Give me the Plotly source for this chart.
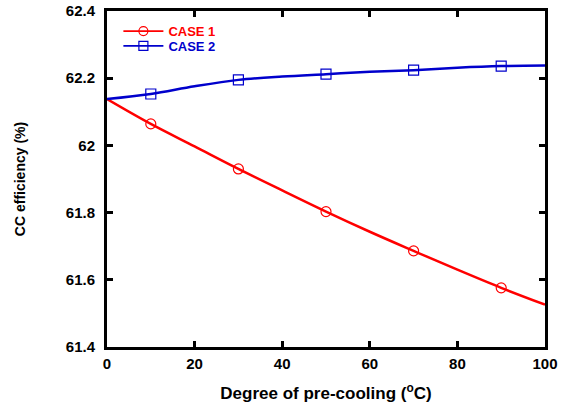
import plotly.graph_objects as go

x_line = [0, 10, 20, 30, 40, 50, 60, 70, 80, 90, 100]
case1_line = [62.138, 62.064, 61.997, 61.930, 61.866, 61.803, 61.743, 61.686, 61.630, 61.576, 61.526]
case2_line = [62.138, 62.153, 62.176, 62.195, 62.205, 62.212, 62.219, 62.224, 62.231, 62.236, 62.238]

x_mark = [10, 30, 50, 70, 90]
case1_mark = [62.064, 61.930, 61.803, 61.686, 61.576]
case2_mark = [62.153, 62.195, 62.212, 62.224, 62.236]

x_ticks = [0, 20, 40, 60, 80, 100]
y_ticks = [61.4, 61.6, 61.8, 62.0, 62.2, 62.4]
y_tick_text = ["61.4", "61.6", "61.8", "62", "62.2", "62.4"]

RED = "#ff0000"
BLUE = "#0000cc"
FONT = "Liberation Sans"

fig = go.Figure()
for name, yl, ym, col, sym, leg in [
    ("CASE 1", case1_line, case1_mark, RED, "circle-open", "legend"),
    ("CASE 2", case2_line, case2_mark, BLUE, "square-open", "legend2"),
]:
    fig.add_trace(go.Scatter(x=x_line, y=yl, mode="lines", line=dict(color=col, width=2.5, shape="spline"),
                             showlegend=False, hoverinfo="skip"))
    fig.add_trace(go.Scatter(x=x_mark, y=ym, mode="markers",
                             marker=dict(symbol=sym, size=10, color=col, line=dict(width=1.2, color=col)),
                             showlegend=False))
    fig.add_trace(go.Scatter(x=[None], y=[None], mode="lines+markers", legend=leg,
                             name=f'<span style="color:{col}">{name}</span>',
                             line=dict(color=col, width=1.8),
                             marker=dict(symbol=sym, size=9, color=col, line=dict(width=1.2, color=col))))

axis_common = dict(showline=True, linewidth=3, linecolor="black", mirror="ticks", ticks="inside",
                   ticklen=6, tickwidth=3, tickcolor="black", showgrid=False, zeroline=False,
                   automargin=False, ticklabeloverflow="allow",
                   tickfont=dict(family=FONT, size=15, color="black", weight="bold"))

legend_common = dict(x=0.026, xanchor="left", yanchor="middle", bgcolor="rgba(0,0,0,0)",
                     font=dict(family=FONT, size=13, weight="bold"), itemwidth=40)

fig.update_layout(
    width=565, height=409,
    margin=dict(l=107, r=20, t=11, b=62),
    paper_bgcolor="white", plot_bgcolor="white",
    font=dict(family=FONT, color="black"),
    xaxis=dict(range=[0, 100], tickvals=x_ticks, ticklabelstandoff=1,
               title=dict(text="Degree of pre-cooling (<sup>o</sup>C)", standoff=17,
                          font=dict(family=FONT, size=17, weight="bold", color="black")),
               **axis_common),
    yaxis=dict(range=[61.4, 62.4], tickvals=y_ticks, ticktext=y_tick_text, ticklabelstandoff=6,
               title=dict(text="CC efficiency (%)", standoff=37,
                          font=dict(family=FONT, size=14, weight="bold", color="black")),
               **axis_common),
    legend=dict(y=0.94, **legend_common),
    legend2=dict(y=0.896, **legend_common),
)

fig.write_html("out.html", config={"displayModeBar": False},
               post_script="document.body.style.margin='0';")
